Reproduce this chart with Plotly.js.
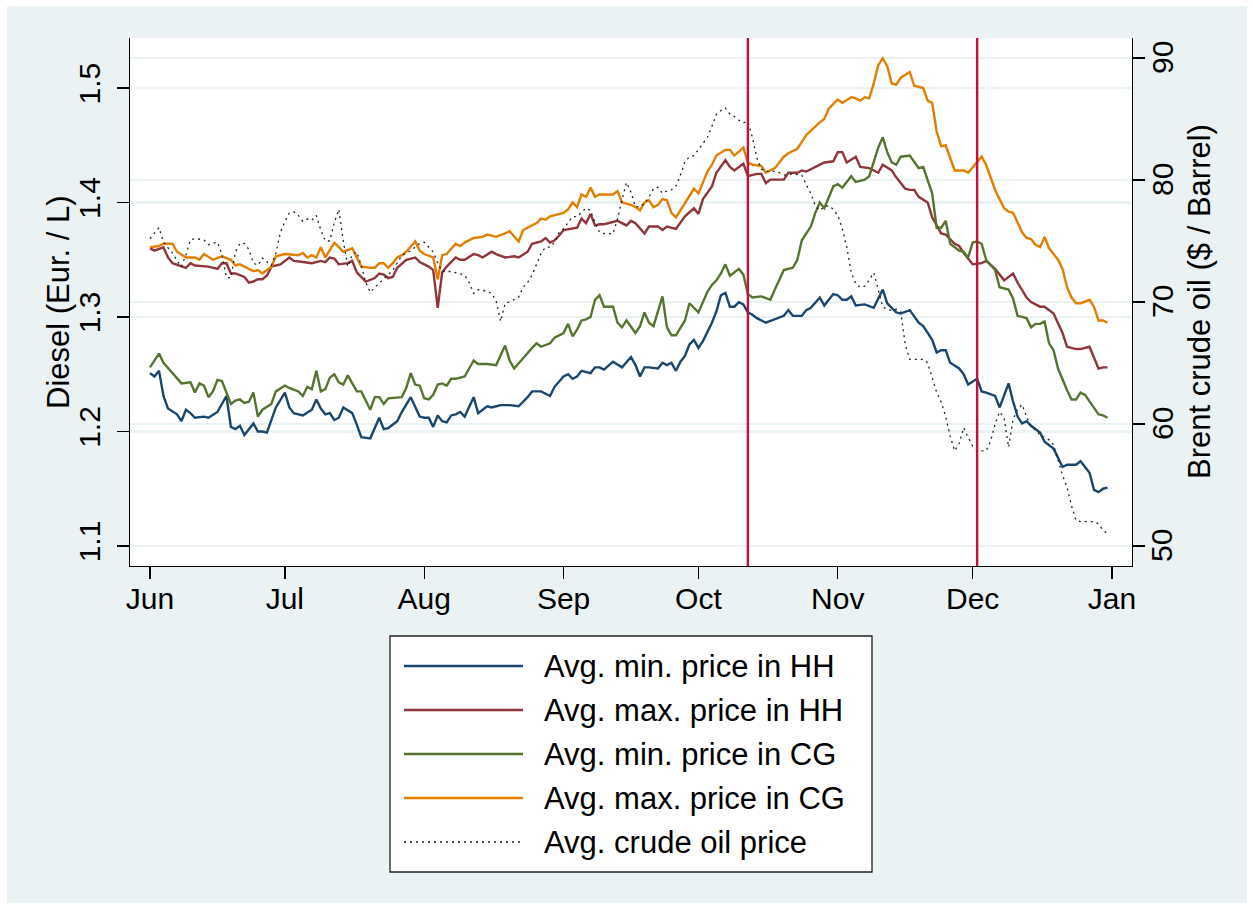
<!DOCTYPE html>
<html>
<head>
<meta charset="utf-8">
<script src="https://cdn.plot.ly/plotly-3.0.1.min.js"></script>
<style>
  html, body { margin: 0; padding: 0; background: #ffffff; }
  #chart { position: absolute; left: 7px; top: 6px; width: 1240px; height: 897px; }
</style>
</head>
<body>
<div id="chart"></div>
<script>
// ---------- DATA (x = days since 1 June) ----------
const monthTickDays = [0, 30, 61, 92, 122, 153, 183, 214];
const monthTickLabels = ["Jun", "Jul", "Aug", "Sep", "Oct", "Nov", "Dec", "Jan"];
const dieselTicks = [1.1, 1.2, 1.3, 1.4, 1.5];
const dieselTickLabels = ["1.1", "1.2", "1.3", "1.4", "1.5"];
const oilTicks = [50, 60, 70, 80, 90];
const oilTickLabels = ["50", "60", "70", "80", "90"];
const eventDays = [133, 184];
const leftTitle = "Diesel (Eur. / L)";
const rightTitle = "Brent crude oil ($ / Barrel)";

const seriesNames = ["Avg. min. price in HH", "Avg. max. price in HH", "Avg. min. price in CG", "Avg. max. price in CG", "Avg. crude oil price"];

const minHH_day = [0,1,2,3,4,6,7,8,9,10,12,13,15,17,18,19,20,21,23,24,25,26,28,30,31,32,34,36,37,38,39,40,41,42,43,45,46,47,49,50,51,52,53,55,56,58,59,60,61,62,63,64,65,66,67,68,69,70,72,73,75,76,78,80,82,83,84,85,87,89,90,92,93,94,95,96,98,99,100,101,103,105,107,108,109,110,111,113,114,115,116,117,118,119,120,121,122,123,125,126,127,128,129,130,131,132,133,134,135,137,139,141,142,143,145,146,147,149,150,152,153,154,155,156,157,159,161,163,164,165,166,167,169,171,172,174,175,176,177,178,180,181,182,184,185,186,188,189,190,191,192,193,194,195,196,198,199,201,202,203,204,206,207,209,210,211,212,213];
const minHH_val = [1.251,1.248,1.253,1.231,1.220,1.215,1.209,1.219,1.216,1.212,1.213,1.212,1.217,1.231,1.204,1.202,1.205,1.197,1.207,1.200,1.200,1.199,1.221,1.234,1.221,1.216,1.214,1.219,1.228,1.220,1.215,1.216,1.210,1.212,1.221,1.216,1.206,1.195,1.194,1.203,1.212,1.202,1.203,1.209,1.217,1.230,1.221,1.213,1.212,1.212,1.204,1.214,1.209,1.208,1.214,1.215,1.217,1.213,1.230,1.216,1.222,1.221,1.223,1.223,1.222,1.226,1.230,1.235,1.235,1.231,1.239,1.248,1.250,1.246,1.248,1.253,1.251,1.256,1.256,1.254,1.261,1.256,1.265,1.258,1.248,1.256,1.256,1.255,1.260,1.258,1.260,1.253,1.261,1.266,1.276,1.280,1.273,1.279,1.295,1.305,1.319,1.321,1.309,1.309,1.313,1.311,1.304,1.302,1.299,1.295,1.298,1.301,1.306,1.301,1.301,1.306,1.308,1.317,1.310,1.320,1.319,1.315,1.315,1.318,1.310,1.311,1.308,1.324,1.312,1.308,1.304,1.303,1.306,1.295,1.292,1.280,1.269,1.271,1.271,1.260,1.255,1.250,1.241,1.246,1.235,1.234,1.231,1.221,1.231,1.242,1.226,1.213,1.207,1.209,1.205,1.199,1.191,1.185,1.177,1.169,1.171,1.171,1.174,1.164,1.149,1.147,1.150,1.151];

const maxHH_day = [0,1,3,4,5,7,8,9,10,13,15,16,17,18,19,21,22,23,24,25,26,27,29,31,32,34,36,38,39,40,41,42,44,45,46,48,50,51,52,53,54,55,57,59,60,62,63,64,65,66,68,69,70,72,73,74,76,77,79,81,82,84,85,87,88,89,90,91,92,95,96,97,98,99,100,101,103,104,106,107,108,110,111,113,114,115,117,119,121,122,123,125,126,128,129,130,132,133,135,136,137,138,141,142,144,145,146,148,150,152,153,154,155,157,158,160,162,163,165,166,168,169,170,171,173,174,176,177,179,180,181,183,185,186,188,190,192,193,195,196,198,199,201,203,204,206,207,209,210,211,212,213];
const maxHH_val = [1.360,1.358,1.361,1.352,1.347,1.344,1.343,1.347,1.345,1.344,1.342,1.347,1.347,1.338,1.338,1.335,1.330,1.331,1.333,1.333,1.336,1.344,1.346,1.352,1.349,1.348,1.347,1.349,1.348,1.352,1.351,1.346,1.347,1.349,1.339,1.331,1.334,1.338,1.337,1.334,1.335,1.343,1.350,1.352,1.348,1.344,1.341,1.308,1.339,1.344,1.352,1.350,1.350,1.355,1.354,1.352,1.357,1.355,1.352,1.353,1.352,1.357,1.364,1.366,1.369,1.365,1.367,1.371,1.376,1.378,1.386,1.382,1.390,1.380,1.381,1.381,1.383,1.384,1.380,1.384,1.382,1.373,1.379,1.379,1.376,1.379,1.377,1.388,1.395,1.390,1.403,1.414,1.426,1.437,1.431,1.428,1.434,1.423,1.425,1.425,1.417,1.420,1.420,1.426,1.426,1.428,1.427,1.431,1.435,1.436,1.444,1.444,1.435,1.440,1.431,1.430,1.426,1.433,1.428,1.422,1.412,1.411,1.411,1.405,1.400,1.387,1.373,1.372,1.364,1.362,1.356,1.346,1.347,1.349,1.342,1.332,1.338,1.330,1.317,1.313,1.309,1.309,1.303,1.286,1.274,1.272,1.272,1.274,1.265,1.255,1.256,1.256];

const minCG_day = [0,2,3,5,7,9,10,11,12,13,14,15,16,18,19,20,21,22,23,24,25,27,28,30,31,33,34,35,36,37,38,39,40,41,42,43,44,46,47,49,50,51,52,53,56,57,58,59,60,61,62,63,64,65,66,67,68,70,71,72,73,75,77,79,80,81,83,84,85,86,87,89,90,92,93,94,95,96,97,98,99,100,101,103,104,105,106,108,109,110,111,112,114,115,116,117,119,120,122,124,125,126,127,128,129,131,132,133,134,136,138,139,141,143,144,145,147,148,149,150,152,153,154,156,157,159,160,162,163,164,165,166,167,169,171,172,174,175,176,177,178,180,181,182,183,184,185,186,188,189,191,192,193,195,196,197,198,199,200,201,202,204,205,206,207,208,210,211,212,213];
const minCG_val = [1.256,1.268,1.260,1.251,1.242,1.243,1.234,1.242,1.240,1.230,1.235,1.245,1.244,1.224,1.227,1.228,1.225,1.226,1.234,1.213,1.219,1.224,1.235,1.240,1.238,1.235,1.231,1.239,1.237,1.253,1.235,1.237,1.247,1.250,1.243,1.241,1.249,1.235,1.235,1.219,1.230,1.230,1.224,1.229,1.230,1.238,1.251,1.241,1.240,1.229,1.228,1.232,1.241,1.242,1.240,1.246,1.246,1.248,1.255,1.262,1.259,1.259,1.258,1.275,1.262,1.255,1.264,1.269,1.273,1.277,1.274,1.277,1.282,1.286,1.294,1.283,1.289,1.297,1.298,1.300,1.315,1.319,1.309,1.309,1.295,1.291,1.297,1.286,1.292,1.304,1.295,1.292,1.318,1.291,1.284,1.284,1.297,1.312,1.304,1.322,1.328,1.332,1.338,1.346,1.336,1.342,1.337,1.320,1.317,1.318,1.315,1.324,1.341,1.343,1.350,1.367,1.379,1.391,1.400,1.395,1.414,1.416,1.413,1.423,1.418,1.420,1.423,1.448,1.457,1.444,1.435,1.433,1.440,1.441,1.430,1.431,1.408,1.378,1.378,1.384,1.364,1.358,1.357,1.352,1.365,1.366,1.364,1.350,1.341,1.326,1.324,1.316,1.301,1.299,1.291,1.294,1.294,1.296,1.277,1.271,1.255,1.236,1.228,1.228,1.234,1.232,1.221,1.215,1.214,1.212];

const maxCG_day = [0,2,3,5,6,8,10,11,12,14,16,18,19,20,23,24,25,27,28,30,33,34,35,36,37,38,39,40,41,42,43,45,46,47,49,50,51,52,53,54,55,56,57,59,60,61,63,64,65,66,68,69,70,72,74,75,76,77,79,80,82,83,85,86,87,88,89,90,92,93,94,95,96,97,98,99,100,101,103,104,105,107,108,109,110,111,112,113,114,115,116,117,119,121,122,124,125,126,128,129,130,132,133,134,136,137,139,141,142,144,145,146,149,150,151,153,154,156,157,158,159,160,161,162,163,164,165,166,167,169,170,171,172,173,174,175,176,177,178,179,180,181,182,184,185,186,187,188,190,191,192,194,195,196,197,198,199,200,202,203,204,205,206,207,209,210,211,212,213];
const maxCG_val = [1.361,1.362,1.364,1.364,1.357,1.352,1.352,1.350,1.355,1.350,1.353,1.350,1.345,1.346,1.340,1.341,1.338,1.344,1.353,1.355,1.354,1.356,1.352,1.354,1.352,1.361,1.352,1.359,1.365,1.361,1.357,1.360,1.352,1.344,1.343,1.343,1.347,1.347,1.343,1.347,1.352,1.354,1.357,1.366,1.358,1.355,1.352,1.333,1.354,1.355,1.364,1.362,1.365,1.369,1.370,1.372,1.371,1.370,1.373,1.375,1.366,1.376,1.380,1.382,1.386,1.385,1.388,1.389,1.391,1.394,1.400,1.396,1.407,1.405,1.413,1.405,1.407,1.407,1.407,1.410,1.400,1.398,1.396,1.393,1.400,1.402,1.396,1.398,1.403,1.402,1.391,1.387,1.399,1.412,1.408,1.427,1.433,1.441,1.446,1.446,1.441,1.448,1.435,1.433,1.432,1.426,1.430,1.440,1.443,1.447,1.453,1.459,1.470,1.473,1.482,1.490,1.487,1.492,1.491,1.489,1.492,1.491,1.504,1.520,1.526,1.519,1.504,1.503,1.509,1.514,1.502,1.501,1.500,1.489,1.487,1.462,1.449,1.450,1.439,1.428,1.428,1.428,1.426,1.435,1.440,1.433,1.422,1.411,1.395,1.392,1.391,1.374,1.369,1.368,1.363,1.361,1.370,1.360,1.350,1.342,1.326,1.317,1.312,1.312,1.315,1.309,1.297,1.297,1.295];

const oil_day = [0,2,3,5,6,7,8,9,10,12,13,14,15,16,17,18,19,20,21,22,23,24,25,27,28,29,30,31,32,33,34,35,36,37,38,39,40,41,42,43,44,45,46,47,48,49,50,52,54,56,58,60,61,63,64,65,67,69,70,71,72,73,75,76,77,78,79,80,81,82,83,84,85,86,87,88,89,90,91,92,93,94,95,97,98,99,100,101,103,104,105,106,107,108,109,110,111,112,113,114,115,116,117,118,119,120,121,122,123,124,125,126,127,128,129,130,131,132,133,134,135,136,137,139,140,141,143,145,146,147,148,149,150,151,152,153,154,155,156,157,158,159,160,161,162,163,164,165,166,167,168,169,170,171,172,173,174,175,176,177,178,179,180,181,182,183,184,185,186,187,188,189,190,191,192,193,194,195,196,197,198,199,200,201,202,203,204,205,206,207,208,209,210,211,212,213];
const oil_val = [75.2,76.1,74.9,74.0,73.4,72.9,73.9,75.1,75.2,75.1,74.7,74.8,74.9,73.9,72.0,72.0,74.1,74.8,74.8,74.3,73.2,73.0,73.6,73.0,74.0,75.7,76.6,77.3,77.4,77.1,76.6,76.8,76.7,77.1,75.9,75.0,75.0,76.5,77.6,75.0,72.9,73.9,74.1,73.0,71.6,70.8,71.2,71.9,72.6,73.8,74.2,74.8,74.9,74.1,73.2,72.5,72.5,72.3,72.2,71.6,70.7,71.0,70.9,70.7,70.1,68.4,69.9,70.0,70.2,70.4,71.2,71.6,72.2,73.1,74.0,74.5,74.5,74.9,75.7,76.0,76.5,77.0,77.0,77.7,77.5,76.5,75.7,75.6,75.6,76.8,78.4,79.8,79.0,77.8,77.8,78.1,78.6,79.3,79.4,78.9,79.1,79.2,79.5,80.4,81.5,81.9,82.0,82.5,82.9,83.5,84.4,85.4,85.7,85.9,85.4,85.2,84.9,84.7,84.8,83.5,81.8,80.9,80.7,80.7,80.6,80.4,80.5,80.4,79.6,78.9,77.9,77.5,77.8,77.9,77.6,77.1,76.0,74.5,72.4,71.5,71.2,71.3,71.8,72.4,71.0,69.6,69.4,69.3,69.4,69.2,66.5,65.3,65.3,65.3,65.3,65.0,63.8,62.6,61.8,60.6,59.0,57.8,58.4,59.7,58.9,58.2,57.9,57.8,57.8,58.6,60.0,61.0,60.5,58.1,60.4,61.2,61.6,60.6,59.8,59.5,59.1,58.9,58.7,58.3,57.0,55.8,54.8,53.3,52.1,52.0,52.0,52.0,52.0,51.8,51.3,51.0];

// ---------- STYLE ----------
const colors = ["#1A476F", "#90353B", "#55752F", "#E37E00", "#222222"];
const dashes = ["solid", "solid", "solid", "solid", "2px,4px"];
const widths = [2.4, 2.4, 2.4, 2.4, 1.3];
const FONT = "Liberation Sans, Arial, Helvetica, sans-serif";
const BG = "#EAF2F3";

const xs = [minHH_day, maxHH_day, minCG_day, maxCG_day, oil_day];
const ys = [minHH_val, maxHH_val, minCG_val, maxCG_val, oil_val];

const traces = seriesNames.map((name, i) => ({
  type: "scatter", mode: "lines", name: name,
  x: xs[i], y: ys[i],
  yaxis: i === 4 ? "y2" : "y",
  line: { color: colors[i], width: widths[i], dash: dashes[i] },
  showlegend: false, hoverinfo: "skip"
}));

// ---------- LAYOUT ----------
const W = 1240, H = 897;
const M = { l: 123, r: 115, t: 32, b: 337 };
const plotW = W - M.l - M.r, plotH = H - M.t - M.b;
// convert absolute page pixel to paper coords (div offset 7,6)
const px = x => (x - 7 - M.l) / plotW;
const py = y => 1 - (y - 6 - M.t) / plotH;

const shapes = eventDays.map(d => ({
  type: "line", xref: "x", yref: "paper", x0: d, x1: d, y0: 0, y1: 1,
  line: { color: "#C50F3C", width: 2.4 }, layer: "above"
}));

// custom legend box
shapes.push({ type: "rect", xref: "paper", yref: "paper",
  x0: px(390), x1: px(872), y0: py(636), y1: py(872),
  line: { color: "#222222", width: 1.3 }, fillcolor: "#ffffff", layer: "above" });
const annotations = [];
seriesNames.forEach((name, i) => {
  const rowY = 666 + i * 44;
  shapes.push({ type: "line", xref: "paper", yref: "paper",
    x0: px(404), x1: px(523), y0: py(rowY), y1: py(rowY),
    line: { color: colors[i], width: widths[i], dash: dashes[i] }, layer: "above" });
  annotations.push({ xref: "paper", yref: "paper", x: px(542), y: py(rowY),
    xanchor: "left", yanchor: "middle", text: name, showarrow: false,
    font: { family: FONT, size: 31, color: "#000000" } });
});

const tickFont = { family: FONT, size: 30, color: "#000000" };

// right-axis tick labels, placed on the oil axis scale (y2)
oilTicks.forEach((v, i) => {
  annotations.push({ xref: "paper", yref: "y2", x: px(1162), y: v, xanchor: "center", yanchor: "middle",
    text: oilTickLabels[i], textangle: -90, showarrow: false, font: tickFont });
});

// axis titles (rotated text beside each axis)
annotations.push({ xref: "paper", yref: "paper", x: px(58), y: 0.5, xanchor: "center", yanchor: "middle",
  text: leftTitle, textangle: -90, showarrow: false, font: { family: FONT, size: 31, color: "#000000" } });
annotations.push({ xref: "paper", yref: "paper", x: px(1199), y: 0.5, xanchor: "center", yanchor: "middle",
  text: rightTitle, textangle: -90, showarrow: false, font: { family: FONT, size: 31, color: "#000000" } });

const axisCommon = {
  ticks: "outside", ticklen: 12, tickwidth: 1.3, tickcolor: "#000000",
  showline: true, linecolor: "#000000", linewidth: 1.3, zeroline: false,
  tickfont: tickFont
};

const layout = {
  width: W, height: H,
  margin: M,
  paper_bgcolor: BG, plot_bgcolor: "#ffffff",
  font: { family: FONT, color: "#000000" },
  showlegend: false,
  xaxis: Object.assign({}, axisCommon, {
    range: [-4.45, 218.45], tickmode: "array", tickvals: monthTickDays, ticktext: monthTickLabels,
    showgrid: false, ticklabelstandoff: -6
  }),
  yaxis: Object.assign({}, axisCommon, {
    range: [1.0825, 1.5437], tickmode: "array", tickvals: dieselTicks, ticktext: dieselTickLabels,
    tickangle: -90, showgrid: true, gridcolor: BG, gridwidth: 2.2, ticklabelstandoff: 5
  }),
  yaxis2: Object.assign({}, axisCommon, {
    range: [48.36, 91.64], tickmode: "array", tickvals: oilTicks, ticktext: oilTickLabels,
    overlaying: "y", side: "right", anchor: "x",
    showticklabels: false, showgrid: true, gridcolor: BG, gridwidth: 2.2
  }),
  shapes: shapes,
  annotations: annotations
};

Plotly.newPlot("chart", traces, layout, { displayModeBar: false, staticPlot: true });
</script>
</body>
</html>
